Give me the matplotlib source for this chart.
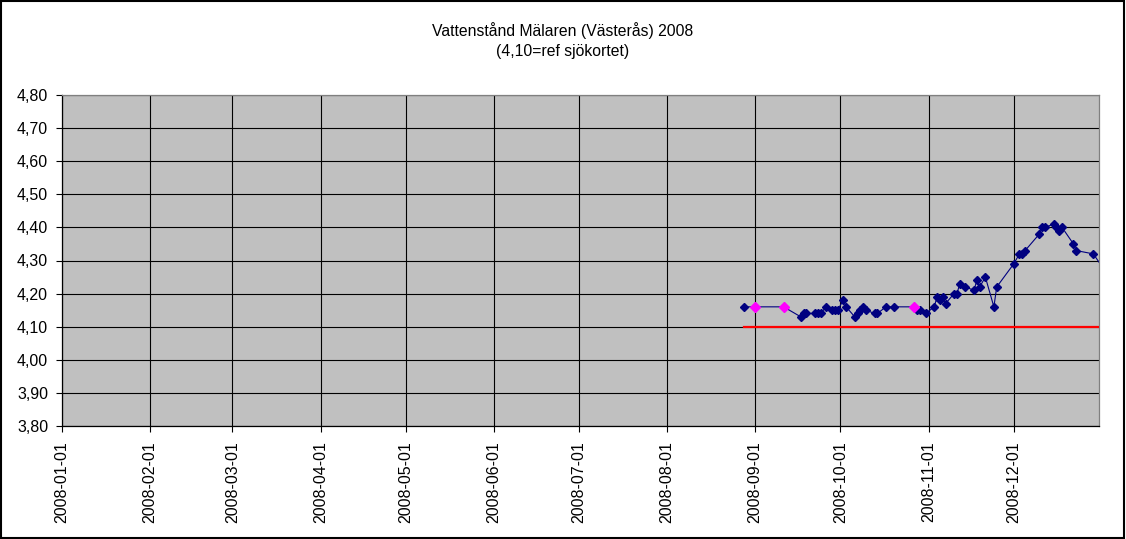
import matplotlib
matplotlib.use("Agg")
import matplotlib.pyplot as plt
import matplotlib.dates as mdates
import pandas as pd
from matplotlib.patches import Rectangle

plt.rcParams['font.family'] = ['Liberation Sans', 'DejaVu Sans']

# --- data ---
dates = ["2008-08-28", "2008-09-01", "2008-09-11", "2008-09-17", "2008-09-18", "2008-09-19",
         "2008-09-22", "2008-09-23", "2008-09-24", "2008-09-26", "2008-09-28", "2008-09-29",
         "2008-09-30", "2008-10-02", "2008-10-03", "2008-10-06", "2008-10-07", "2008-10-08",
         "2008-10-09", "2008-10-10", "2008-10-13", "2008-10-14", "2008-10-17", "2008-10-20",
         "2008-10-27", "2008-10-28", "2008-10-29", "2008-10-31", "2008-11-03", "2008-11-04",
         "2008-11-05", "2008-11-06", "2008-11-07", "2008-11-10", "2008-11-11", "2008-11-12",
         "2008-11-14", "2008-11-17", "2008-11-18", "2008-11-19", "2008-11-21", "2008-11-24",
         "2008-11-25", "2008-12-01", "2008-12-03", "2008-12-04", "2008-12-05", "2008-12-10",
         "2008-12-11", "2008-12-12", "2008-12-15", "2008-12-16", "2008-12-17", "2008-12-18",
         "2008-12-22", "2008-12-23", "2008-12-29", "2009-01-02"]
levels = [4.16, 4.16, 4.16, 4.13, 4.14, 4.14,
          4.14, 4.14, 4.14, 4.16, 4.15, 4.15,
          4.15, 4.18, 4.16, 4.13, 4.14, 4.15,
          4.16, 4.15, 4.14, 4.14, 4.16, 4.16,
          4.16, 4.15, 4.15, 4.14, 4.16, 4.19,
          4.18, 4.19, 4.17, 4.20, 4.20, 4.23,
          4.22, 4.21, 4.24, 4.22, 4.25, 4.16,
          4.22, 4.29, 4.32, 4.32, 4.33, 4.38,
          4.40, 4.40, 4.41, 4.40, 4.39, 4.40,
          4.35, 4.33, 4.32, 4.27]
pink_dates = ["2008-09-01", "2008-09-11", "2008-10-27"]
pink_levels = [4.16, 4.16, 4.16]
ref_dates = ["2008-08-28", "2009-01-02"]
ref_levels = [4.10, 4.10]
tick_dates = pd.date_range("2008-01-01", "2008-12-01", freq="MS")
y_ticks = [3.80, 3.90, 4.00, 4.10, 4.20, 4.30, 4.40, 4.50, 4.60, 4.70, 4.80]
title = "Vattenstånd Mälaren (Västerås) 2008\n(4,10=ref sjökortet)"

W, H = 1126, 539
fig = plt.figure(figsize=(W / 100, H / 100), dpi=100)
ax = fig.add_axes([62 / W, 1 - 426 / H, (1099 - 62) / W, (426 - 95) / H])
ax.set_facecolor("#C0C0C0")

x = pd.to_datetime(dates)
ax.plot(x, levels, color="#000080", lw=0.8, marker="D", markersize=4.0,
        markerfacecolor="#000080", markeredgecolor="#000080", zorder=4)
ax.plot(pd.to_datetime(pink_dates), pink_levels, ls="none", marker="D", markersize=5.5,
        color="#FF00FF", zorder=5)
ax.plot(pd.to_datetime(ref_dates), ref_levels, color="#FF0000", lw=1.6, zorder=3)

ax.set_xlim(pd.Timestamp("2008-01-01"), pd.Timestamp("2008-12-31"))
ax.set_ylim(3.80, 4.80)
ax.set_xticks(tick_dates)
ax.xaxis.set_major_formatter(mdates.DateFormatter("%Y-%m-%d"))
ax.set_yticks(y_ticks)
ax.set_yticklabels([f"{v:.2f}".replace(".", ",") for v in y_ticks])
ax.grid(True, color="black", lw=0.8)
ax.set_axisbelow(True)

for lab in ax.get_xticklabels():
    lab.set_rotation(90)
ax.tick_params(axis="x", direction="out", length=4, width=0.8, pad=7, labelsize=11.5, colors="black")
ax.tick_params(axis="y", direction="out", length=4, width=0.8, pad=6, labelsize=11.5, colors="black")
ax.spines["left"].set_color("black")
ax.spines["bottom"].set_color("black")
ax.spines["top"].set_color("#808080")
ax.spines["right"].set_color("#808080")
for s in ax.spines.values():
    s.set_linewidth(0.9)

fig.text(563 / W, 1 - 40.7 / H, title, ha="center", va="center", fontsize=11.3,
         linespacing=1.4)

fig.patches.append(Rectangle((0.001, 0.002), 0.997, 0.996, transform=fig.transFigure,
                             fill=False, edgecolor="black", lw=1.5))

fig.savefig("out.png", dpi=100)
